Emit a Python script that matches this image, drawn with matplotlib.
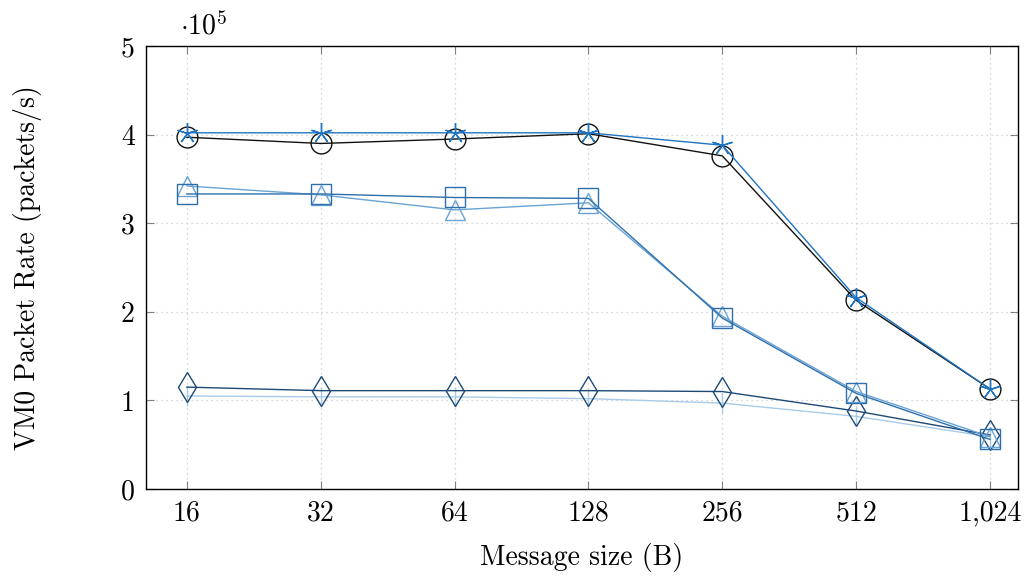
import matplotlib
matplotlib.use("Agg")
import matplotlib.pyplot as plt
import numpy as np

plt.rcParams["font.family"] = "serif"
plt.rcParams["font.serif"] = ["cmr10"]
plt.rcParams["mathtext.fontset"] = "cm"
plt.rcParams["axes.unicode_minus"] = False

# Message sizes (bytes) and packet rates (x 1e5 packets/s)
sizes = [16, 32, 64, 128, 256, 512, 1024]
size_labels = ["16", "32", "64", "128", "256", "512", "1,024"]

rate_circle = [3.97, 3.90, 3.95, 4.01, 3.76, 2.13, 1.13]
rate_asterisk = [4.02, 4.02, 4.02, 4.02, 3.88, 2.16, 1.13]
rate_square = [3.33, 3.33, 3.29, 3.28, 1.93, 1.08, 0.56]
rate_triangle = [3.42, 3.32, 3.15, 3.23, 1.95, 1.10, 0.59]
rate_diamond = [1.15, 1.11, 1.11, 1.11, 1.10, 0.88, 0.61]
rate_bar = [1.05, 1.04, 1.04, 1.02, 0.97, 0.82, 0.59]

y_ticks = [0, 1, 2, 3, 4, 5]

FS = 20

fig = plt.figure(figsize=(10.25, 5.77), dpi=100)
ax = fig.add_axes([0.1424, 0.1525, 0.8508, 0.7678])

ax.set_xscale("log", base=2)
ax.set_xlim(2 ** 3.694, 2 ** 10.21)
ax.set_ylim(0, 5)

series = [
    (rate_bar, "#a9cbe9", "|", 14, 1.0),
    (rate_diamond, "#1d4a75", "d", 15, 1.0),
    (rate_triangle, "#6aa3d5", "^", 14, 1.0),
    (rate_square, "#2e6fab", "s", 15, 1.0),
    (rate_circle, "#111111", "o", 15, 1.0),
    (rate_asterisk, "#1f74c4", (5, 2, 0), 15, 1.0),
]
for vals, color, marker, ms, lw in series:
    ax.plot(sizes, vals, color=color, lw=lw, marker=marker, markersize=ms,
            markerfacecolor="none", markeredgecolor=color, markeredgewidth=1.0)

ax.set_xticks(sizes)
ax.set_xticklabels(size_labels)
ax.xaxis.set_minor_locator(matplotlib.ticker.NullLocator())
ax.set_yticks(y_ticks)
ax.set_yticklabels([str(v) for v in y_ticks])

ax.grid(True, which="major", color="#c8c8c8", linestyle=(0, (1, 3)), linewidth=0.9)
ax.tick_params(axis="both", direction="in", length=6, width=0.8, color="#808080",
               labelsize=FS, top=True, right=True, pad=8)
for s in ax.spines.values():
    s.set_linewidth(1.0)
    s.set_color("black")

ax.set_xlabel("Message size (B)", fontsize=FS, labelpad=12)
ax.set_ylabel("VM0 Packet Rate (packets/s)", fontsize=FS, labelpad=57)
fig.text(0.176, 0.955, r"$\cdot 10^{5}$", fontsize=FS, ha="left", va="center")

fig.savefig("out.png", dpi=100)
